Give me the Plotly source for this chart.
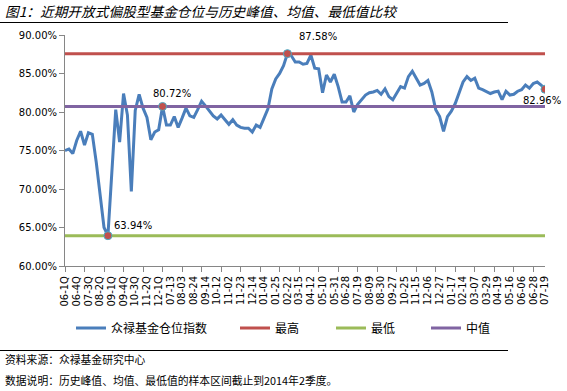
import plotly.graph_objects as go

# ---------------- data ----------------
categories = [
    "06-1Q", "06-2Q", "06-3Q", "06-4Q", "07-1Q", "07-2Q", "07-3Q", "07-4Q",
    "08-1Q", "08-2Q", "08-3Q", "08-4Q", "09-1Q", "09-2Q", "09-3Q", "09-4Q",
    "10-1Q", "10-2Q", "10-3Q", "10-4Q", "11-1Q", "11-2Q", "11-3Q", "11-4Q",
    "12-1Q", "12-2Q",
    "07-06", "07-13", "07-20", "07-27", "08-03", "08-10", "08-17", "08-24",
    "08-31", "09-07", "09-14", "09-21", "09-28", "10-12", "10-19", "10-26",
    "11-02", "11-09", "11-16", "11-23", "11-30", "12-07", "12-14", "12-21",
    "12-28", "01-04", "01-11", "01-18", "01-25", "02-01", "02-08", "02-22",
    "03-01", "03-08", "03-15", "03-22", "03-29", "04-12", "04-19", "04-26",
    "05-10", "05-17", "05-24", "05-31", "06-07", "06-21", "06-28", "07-05",
    "07-12", "07-19", "07-26", "08-02", "08-09", "08-16", "08-23", "08-30",
    "09-06", "09-13", "09-27", "10-11", "10-18", "10-25", "11-01", "11-08",
    "11-15", "11-22", "11-29", "12-06", "12-13", "12-20", "12-27", "01-03",
    "01-10", "01-17", "01-24", "01-30", "02-14", "02-21", "02-28", "03-07",
    "03-14", "03-21", "03-29", "04-04", "04-11", "04-19", "04-25", "05-09",
    "05-16", "05-23", "05-30", "06-06", "06-13", "06-20", "06-28", "07-04",
    "07-11", "07-19",
]

position_index = [
    75.0, 75.2, 74.6, 76.3, 77.5, 75.7, 77.3, 77.1, 73.5, 69.0,
    65.0, 63.94, 72.0, 80.3, 76.1, 82.4, 79.6, 69.7, 80.2, 82.3,
    80.5, 79.3, 76.4, 77.4, 77.7, 80.72, 78.3, 78.3, 79.4, 78.0,
    79.2, 80.5, 79.5, 79.3, 80.3, 81.4, 80.8, 80.1, 79.5, 79.1,
    79.6, 79.0, 78.4, 79.0, 78.3, 78.0, 77.9, 77.9, 77.4, 78.3,
    78.0, 79.2, 80.4, 83.0, 84.3, 85.0, 86.0, 87.58, 87.3, 86.5,
    86.5, 86.2, 86.3, 87.4, 85.7, 85.6, 82.5, 84.8, 83.9, 84.9,
    83.3, 81.3, 81.3, 82.1, 80.0, 81.0, 81.6, 82.2, 82.5, 82.6,
    82.8, 82.3, 83.0, 82.0, 81.6, 82.4, 83.3, 83.1, 84.6, 85.3,
    84.3, 83.5, 83.7, 84.1, 82.6, 80.3, 79.4, 77.5, 79.4, 80.1,
    81.1, 82.6, 83.9, 84.6, 84.1, 84.4, 83.1, 82.9, 82.6, 82.4,
    82.6, 82.7, 81.6, 82.7, 82.2, 82.3, 82.7, 82.9, 83.5, 83.1,
    83.7, 83.9, 83.5, 82.96,
]

HIGH = 87.58
LOW = 63.94
MEDIAN = 80.72

y_ticks = [60, 65, 70, 75, 80, 85, 90]
y_tick_text = [f"{v:.2f}%" for v in y_ticks]
label_step = 3
tickmark_step = 5

# ---------------- figure ----------------
W, H = 567, 391
ML, MR, MT, MB = 65, 22, 35, 125
PW, PH = W - ML - MR, H - MT - MB


def px_x(px):
    return (px - ML) / PW


def px_y(py):
    return (H - MB - py) / PH


n = len(categories)
idx = list(range(n))

BLUE = "#4A7EBB"
RED = "#C0504D"
GREEN = "#9BBB59"
PURPLE = "#8064A2"
AXIS = "#868686"
NUM_FONT = "DejaVu Sans, Noto Sans CJK SC"
CJK_FONT = "Noto Sans CJK SC, DejaVu Sans"

fig = go.Figure()

fig.add_trace(go.Scatter(
    x=idx, y=position_index, mode="lines", name="众禄基金仓位指数",
    line=dict(color=BLUE, width=3), legend="legend", hoverinfo="skip",
))
fig.add_trace(go.Scatter(
    x=idx, y=[HIGH] * n, mode="lines", name="最高",
    line=dict(color=RED, width=3), legend="legend2", hoverinfo="skip",
))
fig.add_trace(go.Scatter(
    x=idx, y=[LOW] * n, mode="lines", name="最低",
    line=dict(color=GREEN, width=3), legend="legend3", hoverinfo="skip",
))
fig.add_trace(go.Scatter(
    x=idx, y=[MEDIAN] * n, mode="lines", name="中值",
    line=dict(color=PURPLE, width=3), legend="legend4", hoverinfo="skip",
))

# highlighted points: lowest, median-point, highest, latest
mark_idx = [
    position_index.index(min(position_index)),
    position_index.index(MEDIAN),
    position_index.index(max(position_index)),
    n - 1,
]
mark_vals = [position_index[i] for i in mark_idx]
label_shift = [(25, 10), (9, 13), (31, 17), (-3, -11)]

fig.add_trace(go.Scatter(
    x=mark_idx, y=mark_vals, mode="markers", showlegend=False,
    marker=dict(color=RED, size=8, line=dict(color="#4BACC6", width=1)),
    hoverinfo="skip",
))

# invisible helper on overlay axis for tick marks every 5 categories
fig.add_trace(go.Scatter(
    x=idx, y=position_index, mode="lines", xaxis="x2", yaxis="y",
    line=dict(width=0, color="rgba(0,0,0,0)"), showlegend=False,
    hoverinfo="skip",
))

annotations = []
for i, v, (dx, dy) in zip(mark_idx, mark_vals, label_shift):
    annotations.append(dict(
        x=i, y=v, xref="x", yref="y", text=f"{v:.2f}%", showarrow=False,
        xshift=dx, yshift=dy, font=dict(family=NUM_FONT, size=10, color="#000000"),
    ))

# title
annotations.append(dict(
    x=px_x(3), y=px_y(11), xref="paper", yref="paper", xanchor="left", yanchor="middle",
    text="<i>图1：近期开放式偏股型基金仓位与历史峰值、均值、最低值比较</i>",
    showarrow=False, font=dict(family=CJK_FONT, size=13.7, color="#000000"),
))
# footer
annotations.append(dict(
    x=px_x(3), y=px_y(359), xref="paper", yref="paper", xanchor="left", yanchor="middle",
    text="资料来源：众禄基金研究中心", showarrow=False,
    font=dict(family=CJK_FONT, size=10.8, color="#000000"),
))
annotations.append(dict(
    x=px_x(3), y=px_y(380), xref="paper", yref="paper", xanchor="left", yanchor="middle",
    text="数据说明：历史峰值、均值、最低值的样本区间截止到2014年2季度。", showarrow=False,
    font=dict(family=CJK_FONT, size=10.8, color="#000000"),
))

shapes = [
    dict(type="line", xref="paper", yref="paper", x0=px_x(0), x1=px_x(508),
         y0=px_y(22.5), y1=px_y(22.5), line=dict(color="#000000", width=1)),
    dict(type="line", xref="paper", yref="paper", x0=px_x(0), x1=px_x(508),
         y0=px_y(350.5), y1=px_y(350.5), line=dict(color="#000000", width=1)),
]

legend_common = dict(
    orientation="h", xref="container", yref="container", xanchor="left",
    yanchor="middle", y=1 - 328 / H, bgcolor="rgba(0,0,0,0)",
    font=dict(family=CJK_FONT, size=12, color="#000000"), itemwidth=30,
)

fig.update_layout(
    width=W, height=H,
    margin=dict(l=ML, r=MR, t=MT, b=MB, autoexpand=False),
    paper_bgcolor="white", plot_bgcolor="white",
    showlegend=True,
    legend=dict(x=71 / W, **legend_common),
    legend2=dict(x=235 / W, **legend_common),
    legend3=dict(x=331 / W, **legend_common),
    legend4=dict(x=426 / W, **legend_common),
    xaxis=dict(
        range=[0, n - 1], tickmode="array",
        tickvals=idx[::label_step], ticktext=categories[::label_step],
        tickangle=-90, ticks="outside", ticklen=5, tickcolor="rgba(0,0,0,0)",
        showline=True, linecolor=AXIS, linewidth=1, showgrid=False, zeroline=False,
        automargin=False,
        tickfont=dict(family=NUM_FONT, size=10, color="#000000"),
    ),
    xaxis2=dict(
        range=[0, n - 1], overlaying="x", anchor="y", side="bottom",
        tickmode="array", tickvals=idx[::tickmark_step], ticks="outside",
        ticklen=5, tickcolor=AXIS, showticklabels=False, showline=False,
        showgrid=False, zeroline=False, automargin=False,
    ),
    yaxis=dict(
        range=[60, 90], tickmode="array", tickvals=y_ticks, ticktext=y_tick_text,
        ticks="outside", ticklen=5,
        tickcolor=AXIS, showline=True, linecolor=AXIS, linewidth=1,
        showgrid=False, zeroline=False, automargin=False,
        tickfont=dict(family=NUM_FONT, size=10, color="#000000"),
    ),
    annotations=annotations,
    shapes=shapes,
)

fig.write_html(
    "out.html",
    config={"displayModeBar": False, "staticPlot": True},
    post_script="document.body.style.margin='0px';document.body.style.padding='0px';",
)
